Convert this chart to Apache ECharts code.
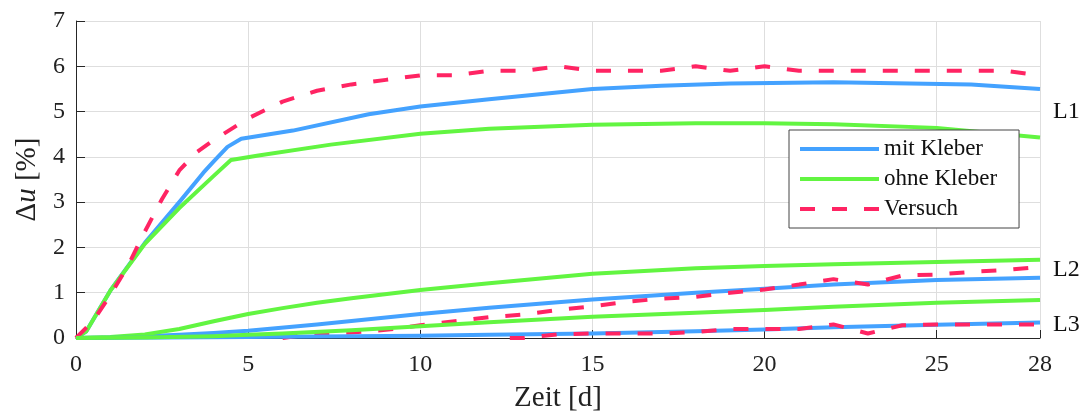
<!DOCTYPE html>
<html>
<head>
<meta charset="utf-8">
<script src="https://cdn.jsdelivr.net/npm/echarts@6/dist/echarts.min.js"></script>
<style>
  html, body { margin: 0; padding: 0; background: #fff; }
  #chart { width: 1085px; height: 414px; }
</style>
</head>
<body>
<div id="chart"></div>
<script>
// Tage / Werte [Tag, Δu in %]
var l1MitKleber = [[0, 0], [0.3, 0.15], [1, 1.05], [2, 2.1], [3, 3.0], [3.7, 3.65], [4, 3.9], [4.4, 4.22],
  [4.8, 4.4], [6.3, 4.58], [8.5, 4.94], [10, 5.11], [12, 5.27], [15, 5.5], [17, 5.57], [19, 5.62],
  [22, 5.65], [26, 5.6], [27, 5.55], [28, 5.5]];
var l1OhneKleber = [[0, 0], [0.3, 0.15], [1, 1.05], [2, 2.08], [3, 2.87], [4, 3.58], [4.5, 3.93], [5.3, 4.03],
  [7.4, 4.27], [10, 4.51], [12, 4.62], [15, 4.71], [18, 4.74], [20, 4.74], [22, 4.72], [25, 4.64], [28, 4.43]];
var l1Versuch = [[0, 0], [0.5, 0.38], [1, 0.95], [1.5, 1.58], [2, 2.35], [2.5, 3.07], [3, 3.7], [3.5, 4.1],
  [4, 4.37], [5, 4.85], [6, 5.22], [7, 5.46], [8, 5.6], [9, 5.7], [10, 5.8], [11, 5.8], [12, 5.9], [13, 5.9],
  [14, 6.0], [15, 5.9], [16, 5.9], [17, 5.9], [18, 6.0], [19, 5.9], [20, 6.0], [21, 5.9], [22, 5.9],
  [23, 5.9], [24, 5.9], [25, 5.9], [26, 5.9], [27, 5.9], [28, 5.8]];

var l2MitKleber = [[0, 0], [1, 0.01], [2, 0.04], [3, 0.07], [4, 0.11], [5, 0.16], [7, 0.3], [10, 0.53],
  [12, 0.67], [15, 0.85], [18, 1.0], [20, 1.09], [22, 1.18], [25, 1.28], [28, 1.33]];
var l2OhneKleber = [[0, 0], [1, 0.02], [2, 0.08], [3, 0.2], [4, 0.37], [5, 0.53], [6, 0.66], [7, 0.78],
  [8, 0.88], [10, 1.06], [12, 1.21], [15, 1.42], [18, 1.54], [20, 1.59], [22, 1.63], [25, 1.68], [28, 1.73]];
var l2Versuch = [[6, 0], [7, 0.1], [8, 0.12], [9, 0.18], [10, 0.28], [11, 0.37], [12, 0.46], [13, 0.52],
  [14, 0.62], [15, 0.7], [16, 0.8], [17, 0.87], [18, 0.91], [19, 1.0], [20, 1.07], [21, 1.18], [22, 1.3],
  [23, 1.18], [24, 1.38], [25, 1.4], [26, 1.46], [27, 1.5], [28, 1.57]];

var l3MitKleber = [[0, 0], [5, 0.02], [10, 0.05], [12, 0.07], [15, 0.1], [18, 0.15], [20, 0.19], [22, 0.24],
  [25, 0.29], [28, 0.34]];
var l3OhneKleber = [[0, 0], [2, 0.01], [4, 0.04], [5, 0.07], [6, 0.1], [8, 0.17], [10, 0.26], [12, 0.35],
  [15, 0.47], [18, 0.56], [20, 0.62], [22, 0.69], [25, 0.78], [28, 0.84]];
var l3Versuch = [[12.6, 0], [13, 0], [14, 0.08], [15, 0.1], [16, 0.1], [17, 0.1], [18, 0.13], [19, 0.2],
  [20, 0.2], [21, 0.2], [22, 0.3], [23, 0.1], [24, 0.28], [25, 0.3], [26, 0.3], [27, 0.3], [28, 0.3]];

var legendNames = ['mit Kleber', 'ohne Kleber', 'Versuch'];
var groupLabels = ['L1', 'L2', 'L3'];
var groupLabelValues = [5.0, 1.5, 0.29];

(function () {
  var dom = document.getElementById("chart");
  var myChart = echarts.init(dom);

  var blue = '#44a2ff';
  var green = '#62f541';
  var red = '#ff2463';
  var font = 'Liberation Serif';

  function modelLine(name, data, color) {
    return {
      name: name,
      type: 'line',
      data: data,
      symbol: 'none',
      clip: false,
      lineStyle: { color: color, width: 4, join: 'round' },
      itemStyle: { color: color }
    };
  }

  function testLine(data) {
    return {
      name: legendNames[2],
      type: 'line',
      data: data,
      symbol: 'none',
      clip: false,
      lineStyle: { color: red, width: 4, type: [15, 17], cap: 'butt' },
      itemStyle: { color: red }
    };
  }

  // Gruppenbeschriftung L1/L2/L3 rechts neben dem Plot
  function groupMark(i) {
    return {
      symbol: 'circle',
      symbolSize: 0,
      silent: true,
      label: {
        show: true,
        position: 'right',
        distance: 13,
        formatter: groupLabels[i],
        color: '#111',
        fontFamily: font,
        fontSize: 24
      },
      data: [{ coord: [28, groupLabelValues[i]] }]
    };
  }

  var groups = [
    [l1MitKleber, l1OhneKleber, l1Versuch],
    [l2MitKleber, l2OhneKleber, l2Versuch],
    [l3MitKleber, l3OhneKleber, l3Versuch]
  ];
  var series = [];
  groups.forEach(function (g, i) {
    var s = modelLine(legendNames[0], g[0], blue);
    s.markPoint = groupMark(i);
    series.push(s);
    series.push(modelLine(legendNames[1], g[1], green));
    series.push(testLine(g[2]));
  });

  var option = {
    animation: false,
    grid: {
      left: 76,
      right: 45,
      top: 21,
      bottom: 76,
      outerBoundsMode: 'none'
    },
    legend: {
      data: legendNames,
      orient: 'vertical',
      left: 789,
      top: 130,
      itemWidth: 79,
      itemHeight: 14,
      itemGap: 4,
      padding: [6, 22, 6, 9],
      backgroundColor: '#fff',
      borderColor: '#444',
      borderWidth: 1,
      itemStyle: { opacity: 0 },
      lineStyle: { width: 4 },
      textStyle: {
        color: '#111',
        fontFamily: font,
        fontSize: 23,
        lineHeight: 26
      }
    },
    xAxis: {
      type: 'value',
      min: 0,
      max: 28,
      interval: 5,
      name: 'Zeit [d]',
      nameLocation: 'middle',
      nameGap: 46,
      nameTextStyle: { color: '#222', fontFamily: font, fontSize: 29 },
      axisLine: { lineStyle: { color: '#262626', width: 1 } },
      axisTick: { inside: true, length: 8, lineStyle: { color: '#262626' } },
      axisLabel: { color: '#222', fontFamily: font, fontSize: 24, margin: 15, showMaxLabel: true },
      splitLine: { show: true, lineStyle: { color: '#dedede', width: 1 } }
    },
    yAxis: {
      type: 'value',
      min: 0,
      max: 7,
      interval: 1,
      name: 'Δ{i|u} [%]',
      nameLocation: 'middle',
      nameGap: 33,
      nameTextStyle: {
        color: '#222',
        fontFamily: font,
        fontSize: 29,
        rich: {
          i: { fontFamily: font, fontSize: 29, fontStyle: 'italic', color: '#222' }
        }
      },
      axisLine: { show: true, lineStyle: { color: '#262626', width: 1 } },
      axisTick: { show: true, inside: true, length: 9, lineStyle: { color: '#262626' } },
      axisLabel: { color: '#222', fontFamily: font, fontSize: 24, margin: 11 },
      splitLine: { show: true, lineStyle: { color: '#dedede', width: 1 } }
    },
    series: series
  };

  if (option && typeof option === 'object') {
    myChart.setOption(option);
  }
})();
</script>
</body>
</html>
